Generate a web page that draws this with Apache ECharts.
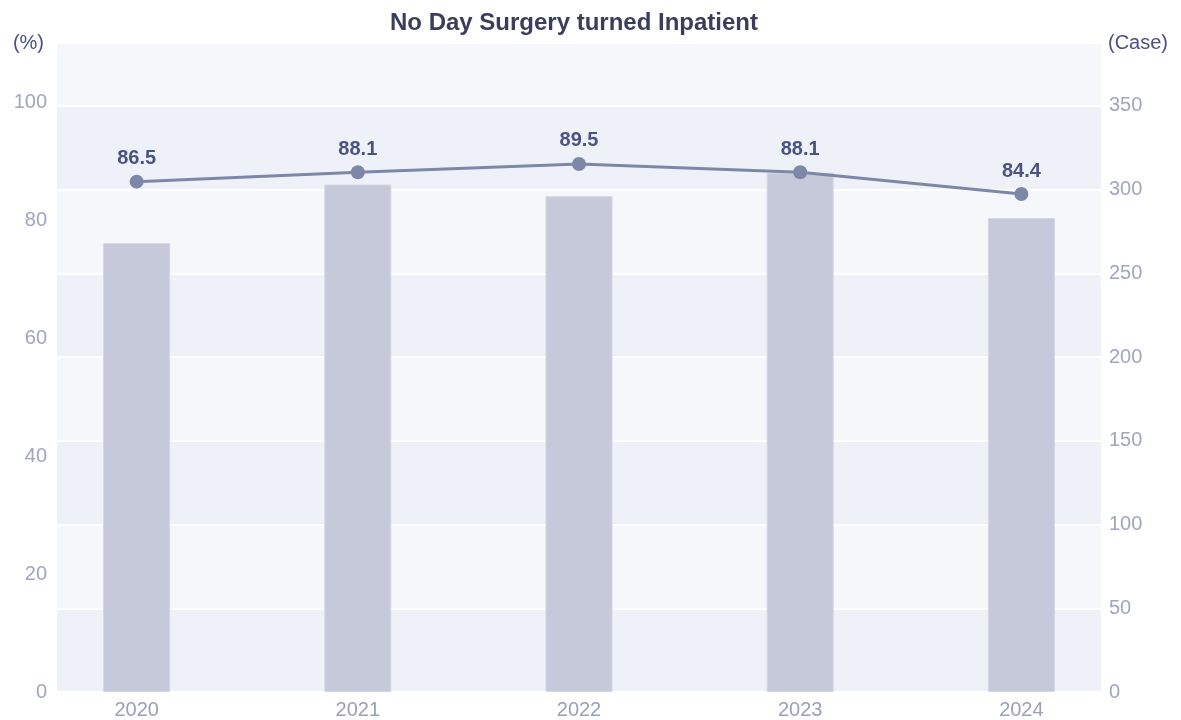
<!DOCTYPE html>
<html>
<head>
<meta charset="utf-8">
<script src="https://cdn.jsdelivr.net/npm/echarts@6/dist/echarts.min.js"></script>
<style>
  html, body { margin: 0; padding: 0; background: #fff; }
  #chart { width: 1181px; height: 720px; }
</style>
</head>
<body>
<div id="chart"></div>
<script>
// 年份
const years = ['2020', '2021', '2022', '2023', '2024'];
// 病例数（右轴）
const caseCounts = [268, 303, 296, 310, 283];
// 百分比（左轴）
const rates = [86.5, 88.1, 89.5, 88.1, 84.4];
// 刻度
const leftTicks = [0, 20, 40, 60, 80, 100];
const rightTicks = [0, 50, 100, 150, 200, 250, 300, 350];

var chartDom = document.getElementById('chart');
var myChart = echarts.init(chartDom);
var option;

var font = 'Liberation Sans, Arial, sans-serif';

option = {
    animation: false,
    textStyle: { fontFamily: font },
    title: {
        text: 'No Day Surgery turned Inpatient',
        left: 569,
        textAlign: 'center',
        top: 6,
        textStyle: { fontSize: 24, fontWeight: 'bold', color: '#3a3d5c', fontFamily: font }
    },
    // 轴单位
    graphic: [
        {
            type: 'text',
            right: 1181 - 44,
            top: 33,
            style: { text: '(%)', fill: '#4a5080', font: '20px Liberation Sans, Arial, sans-serif' }
        },
        {
            type: 'text',
            left: 1108,
            top: 33,
            style: { text: '(Case)', fill: '#4a5080', font: '20px Liberation Sans, Arial, sans-serif' }
        }
    ],
    grid: { left: 57, right: 80, top: 43, bottom: 28 },
    xAxis: {
        type: 'value',
        min: -0.36,
        max: 4.36,
        axisLine: { show: false },
        axisTick: { show: false },
        splitLine: { show: false },
        axisLabel: {
            customValues: [0, 1, 2, 3, 4],
            formatter: function (v) { return years[Math.round(v)]; },
            color: '#9a9fba',
            fontSize: 20,
            margin: 8,
            fontFamily: font
        }
    },
    yAxis: [
        {
            type: 'value',
            min: 0,
            max: 110,
            interval: 20,
            position: 'left',
            axisLine: { show: false },
            axisTick: { show: false },
            splitLine: { show: false },
            axisLabel: {
                customValues: leftTicks,
                color: '#a0a5c0',
                fontSize: 20,
                margin: 10,
                fontFamily: font
            }
        },
        {
            type: 'value',
            min: 0,
            max: 387.5,
            interval: 50,
            position: 'right',
            axisLine: { show: false },
            axisTick: { show: false },
            splitLine: { show: true, lineStyle: { color: '#ffffff', width: 2 } },
            splitArea: { show: true, areaStyle: { color: ['#eef2f8', '#f5f7fb'] } },
            axisLabel: {
                customValues: rightTicks,
                color: '#a0a5c0',
                fontSize: 20,
                margin: 8,
                fontFamily: font
            }
        }
    ],
    series: [
        {
            name: 'Case',
            type: 'bar',
            yAxisIndex: 1,
            barWidth: 67,
            itemStyle: { color: '#c5c9d9', borderColor: '#d3d6e3', borderWidth: 1 },
            data: caseCounts.map(function (v, i) { return [i, v]; })
        },
        {
            name: 'Rate',
            type: 'line',
            yAxisIndex: 0,
            symbol: 'circle',
            symbolSize: 14,
            lineStyle: { color: '#7d88a8', width: 3 },
            itemStyle: { color: '#7d88a8' },
            label: {
                show: true,
                position: 'top',
                distance: 6,
                color: '#4b5383',
                fontSize: 20,
                fontWeight: 'bold',
                fontFamily: font,
                formatter: function (p) { return p.value[1].toFixed(1); }
            },
            data: rates.map(function (v, i) { return [i, v]; })
        }
    ]
};

option && myChart.setOption(option);
</script>
</body>
</html>
